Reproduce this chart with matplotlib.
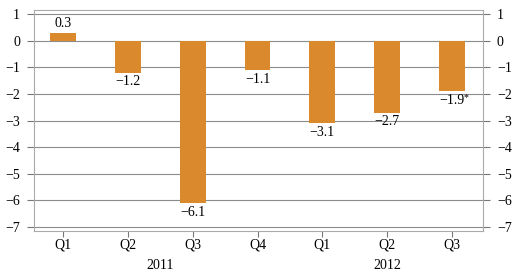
import matplotlib
matplotlib.use("Agg")
import matplotlib.pyplot as plt
import numpy as np

quarters = ["Q1", "Q2", "Q3", "Q4", "Q1", "Q2", "Q3"]
values = [0.3, -1.2, -6.1, -1.1, -3.1, -2.7, -1.9]
labels = ["0.3", "\u22121.2", "\u22126.1", "\u22121.1", "\u22123.1", "\u22122.7", "\u22121.9"]
years = ["2011", "2012"]
year_pos = [1.5, 5.0]

plt.rcParams['font.family'] = ['Liberation Serif', 'DejaVu Serif']
plt.rcParams['font.size'] = 10

fig = plt.figure(figsize=(5.15, 2.76), dpi=100)
ax = fig.add_axes([34 / 515, 1 - 231 / 276, 449 / 515, 221 / 276])

x = np.arange(len(values))
ax.bar(x, values, width=0.4, color='#DA8A2D', zorder=3)

ax.set_xlim(-0.45, 6.48)
ax.set_ylim(-7.15, 1.15)
ax.set_yticks(range(-7, 2))
ax.set_yticklabels([str(v).replace('-', '\u2212') for v in range(-7, 2)])
ax.grid(axis='y', color='#8c8c8c', linewidth=0.8, zorder=1)
ax.tick_params(axis='y', which='both', left=True, right=True, labelleft=True,
               labelright=True, direction='out', length=5, color='#777777',
               pad=5)
ax.set_xticks(x)
ax.set_xticklabels(quarters)
ax.tick_params(axis='x', direction='out', length=4, color='#777777', pad=1.5)
for s in ax.spines.values():
    s.set_color('#aaaaaa')
    s.set_linewidth(0.8)

for i, (v, lab) in enumerate(zip(values, labels)):
    if v >= 0:
        ax.annotate(lab, (i, v), xytext=(0, 2), textcoords='offset points',
                    ha='center', va='bottom')
    else:
        ax.annotate(lab, (i, v), xytext=(0, -2), textcoords='offset points',
                    ha='center', va='top')

# asterisk on the last value
ax.annotate("*", (len(values) - 1, values[-1]), xytext=(8.6, -1.5),
            textcoords='offset points', ha='left', va='top', fontsize=7)

for yr, p in zip(years, year_pos):
    ax.annotate(yr, (p, 0), xycoords=('data', 'axes fraction'),
                xytext=(0, -20), textcoords='offset points',
                ha='center', va='top')

fig.savefig("out.png", dpi=100)
